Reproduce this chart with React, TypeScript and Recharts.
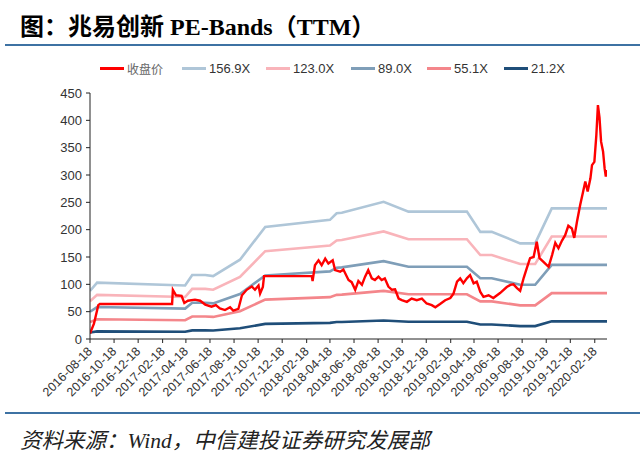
import React from 'react';
import { LineChart, Line, XAxis, YAxis } from 'recharts';

// 收盘价 (close price) readings
const priceDates = [
  '2016-08-18','2016-08-28','2016-09-08','2016-09-12','2017-03-14','2017-03-16','2017-03-24','2017-04-07','2017-04-14','2017-04-23',
  '2017-05-11','2017-05-24','2017-06-06','2017-06-22','2017-07-03','2017-07-13','2017-07-26','2017-08-08','2017-08-16','2017-08-29',
  '2017-09-07','2017-09-19','2017-10-02','2017-10-10','2017-10-19','2017-10-23','2017-10-30','2017-11-02','2018-03-03','2018-03-05',
  '2018-03-11','2018-03-20','2018-03-28','2018-04-06','2018-04-14','2018-04-25','2018-05-01','2018-05-14','2018-05-22','2018-06-04',
  '2018-06-12','2018-06-21','2018-06-29','2018-07-08','2018-07-16','2018-07-24','2018-08-02','2018-08-10','2018-08-19','2018-08-27',
  '2018-09-04','2018-09-13','2018-09-22','2018-09-30','2018-10-09','2018-10-17','2018-10-30','2018-11-11','2018-11-24','2018-12-07',
  '2018-12-19','2019-01-01','2019-01-10','2019-01-22','2019-02-04','2019-02-17','2019-02-25','2019-03-06','2019-03-14','2019-03-22',
  '2019-03-31','2019-04-08','2019-04-17','2019-04-25','2019-05-04','2019-05-12','2019-05-25','2019-06-06','2019-06-23','2019-07-10',
  '2019-07-19','2019-07-27','2019-08-05','2019-08-13','2019-08-22','2019-08-30','2019-09-07','2019-09-16','2019-09-24','2019-10-01',
  '2019-10-11','2019-10-24','2019-11-02','2019-11-10','2019-11-18','2019-11-27','2019-12-05','2019-12-13','2019-12-22','2019-12-28',
  '2020-01-04','2020-01-12','2020-01-19','2020-01-25','2020-01-31','2020-02-07','2020-02-11','2020-02-17','2020-02-22','2020-02-26',
  '2020-03-01','2020-03-05','2020-03-10','2020-03-14','2020-03-17','2020-03-20',
];
const priceValues = [
  10, 28, 62, 64, 64, 90, 80, 79, 66, 70,
  72, 70, 63, 59, 62, 56, 53, 58, 52, 55,
  80, 90, 96, 90, 98, 83, 95, 115, 115, 106,
  135, 144, 135, 147, 138, 144, 126, 123, 127, 108,
  104, 90, 106, 99, 114, 126, 111, 108, 114, 108,
  111, 96, 90, 91, 74, 71, 68, 74, 71, 74,
  65, 62, 58, 64, 71, 75, 83, 105, 111, 102,
  111, 117, 102, 105, 86, 77, 80, 75, 84, 95,
  99, 100, 93, 88, 112, 130, 148, 150, 178, 148,
  141, 132, 154, 176, 166, 180, 190, 207, 202, 185,
  215, 245, 268, 288, 270, 294, 318, 324, 373, 428,
  405, 361, 343, 312, 297, 309,
];

// PE band key dates and values
const bandDates = [
  '2016-08-18','2016-09-05','2017-04-16','2017-05-04','2017-06-06','2017-06-26','2017-09-02','2017-11-05','2018-04-18','2018-05-05',
  '2018-05-18','2018-09-01','2018-11-03','2019-03-31','2019-05-04','2019-06-02','2019-08-13','2019-09-20','2019-11-01','2020-03-20',
];
const band1569 = [88, 103, 98, 117, 117, 115, 145, 205, 218, 230, 231, 251, 233, 233, 196, 196, 175, 175, 239, 239];
const band1230 = [69.0, 80.7, 76.8, 91.7, 91.7, 90.1, 113.7, 160.7, 170.9, 180.3, 181.1, 196.8, 182.6, 182.6, 153.6, 153.6, 137.2, 137.2, 187.4, 187.4];
const band890 = [49.9, 58.4, 55.6, 66.4, 66.4, 65.2, 82.2, 116.3, 123.7, 130.5, 131.0, 142.4, 132.2, 132.2, 111.2, 111.2, 99.3, 99.3, 135.6, 135.6];
const band551 = [30.9, 36.2, 34.4, 41.1, 41.1, 40.4, 50.9, 72.0, 76.6, 80.8, 81.1, 88.1, 81.8, 81.8, 68.8, 68.8, 61.5, 61.5, 83.9, 83.9];
const band212 = [11.9, 13.9, 13.2, 15.8, 15.8, 15.5, 19.6, 27.7, 29.5, 31.1, 31.2, 33.9, 31.5, 31.5, 26.5, 26.5, 23.6, 23.6, 32.3, 32.3];

const seriesNames = ['收盘价', '156.9X', '123.0X', '89.0X', '55.1X', '21.2X'];
const seriesKeys = ['price', 'b1569', 'b1230', 'b890', 'b551', 'b212'];
const seriesColors = ['#FF0000', '#AFC6D8', '#F9B4BA', '#7F9EB8', '#F4868B', '#1F4E79'];

const yTicks = [0, 50, 100, 150, 200, 250, 300, 350, 400, 450];
const xTickLabels = [
  '2016-08-18','2016-10-18','2016-12-18','2017-02-18','2017-04-18','2017-06-18','2017-08-18','2017-10-18',
  '2017-12-18','2018-02-18','2018-04-18','2018-06-18','2018-08-18','2018-10-18','2018-12-18','2019-02-18',
  '2019-04-18','2019-06-18','2019-08-18','2019-10-18','2019-12-18','2020-02-18',
];

const ts = (s: string) => Date.parse(s + 'T00:00:00Z');
const fmt = (t: number) => new Date(t).toISOString().slice(0, 10);

// merge into one table
const rowsMap = new Map<number, any>();
const put = (d: string, k: string, v: number) => {
  const t = ts(d);
  if (!rowsMap.has(t)) rowsMap.set(t, { t });
  rowsMap.get(t)[k] = v;
};
priceDates.forEach((d, i) => put(d, 'price', priceValues[i]));
const bandArrays = [band1569, band1230, band890, band551, band212];
bandDates.forEach((d, i) => {
  bandArrays.forEach((arr, j) => put(d, seriesKeys[j + 1], arr[i]));
});
const data = Array.from(rowsMap.values()).sort((a, b) => a.t - b.t);

const xTicks = xTickLabels.map(ts);
const xDomain = [ts(priceDates[0]), ts(priceDates[priceDates.length - 1])];

const XTick = (props: any) => {
  const { x, y, payload } = props;
  return (
    <g transform={`translate(${x + 3},${y + 7})`}>
      <text x={0} y={0} textAnchor="end" transform="rotate(-45)" fontSize={12.5} fill="#333" fontFamily="Arial, 'Liberation Sans', sans-serif">
        {fmt(payload.value)}
      </text>
    </g>
  );
};

const legendX = [100, 182, 266, 351, 427, 504];

export default function App() {
  return (
    <div style={{ position: 'fixed', left: 0, top: 0, width: 640, height: 466, background: '#fff', overflow: 'hidden' }}>
      <div style={{ position: 'absolute', left: 20, top: 7, fontSize: 24, fontWeight: 'bold', fontFamily: "'Liberation Serif', 'Noto Sans CJK SC', serif", color: '#000', whiteSpace: 'nowrap' }}>
        图：兆易创新 PE-Bands（TTM）
      </div>
      <div style={{ position: 'absolute', left: 5, top: 44, width: 635, height: 2, background: '#3E72A3' }} />
      {seriesNames.map((n, i) => (
        <div key={n} style={{ position: 'absolute', left: legendX[i], top: 60, height: 16, display: 'flex', alignItems: 'center', whiteSpace: 'nowrap' }}>
          <div style={{ width: 24, height: 3, background: seriesColors[i], marginRight: 3 }} />
          <span style={{ fontSize: i === 0 ? 12 : 13, color: i === 0 ? '#666' : '#333', fontFamily: "Arial, 'Liberation Sans', 'Noto Sans CJK SC', sans-serif" }}>{n}</span>
        </div>
      ))}
      <div style={{ position: 'absolute', left: 0, top: 0 }}>
        <LineChart width={640} height={466} data={data} margin={{ top: 93, right: 33, bottom: 0, left: 0 }}>
          <XAxis
            dataKey="t"
            type="number"
            scale="time"
            domain={xDomain}
            ticks={xTicks}
            interval={0}
            height={127}
            tickSize={4}
            tick={<XTick />}
            axisLine={{ stroke: '#222', strokeWidth: 1 }}
            tickLine={{ stroke: '#222' }}
            allowDataOverflow
          />
          <YAxis
            width={90}
            domain={[0, 450]}
            ticks={yTicks}
            interval={0}
            tickSize={4}
            tickMargin={4}
            tick={{ fontSize: 13, fill: '#333', fontFamily: "Arial, 'Liberation Sans', sans-serif" }}
            axisLine={{ stroke: '#222', strokeWidth: 1 }}
            tickLine={{ stroke: '#222' }}
          />
          {seriesKeys.slice(1).map((k, j) => (
            <Line key={k} dataKey={k} type="linear" stroke={seriesColors[j + 1]} strokeWidth={2.6} dot={false} connectNulls isAnimationActive={false} />
          ))}
          <Line dataKey="price" type="linear" stroke={seriesColors[0]} strokeWidth={2.4} dot={false} connectNulls isAnimationActive={false} />
        </LineChart>
      </div>
      <div style={{ position: 'absolute', left: 5, top: 412, width: 635, height: 2, background: '#3E72A3' }} />
      <div style={{ position: 'absolute', left: 20, top: 423, fontSize: 21.5, fontStyle: 'italic', fontFamily: "'Liberation Serif', 'Noto Sans CJK SC', serif", color: '#222', whiteSpace: 'nowrap' }}>
        资料来源：Wind，中信建投证券研究发展部
      </div>
    </div>
  );
}
